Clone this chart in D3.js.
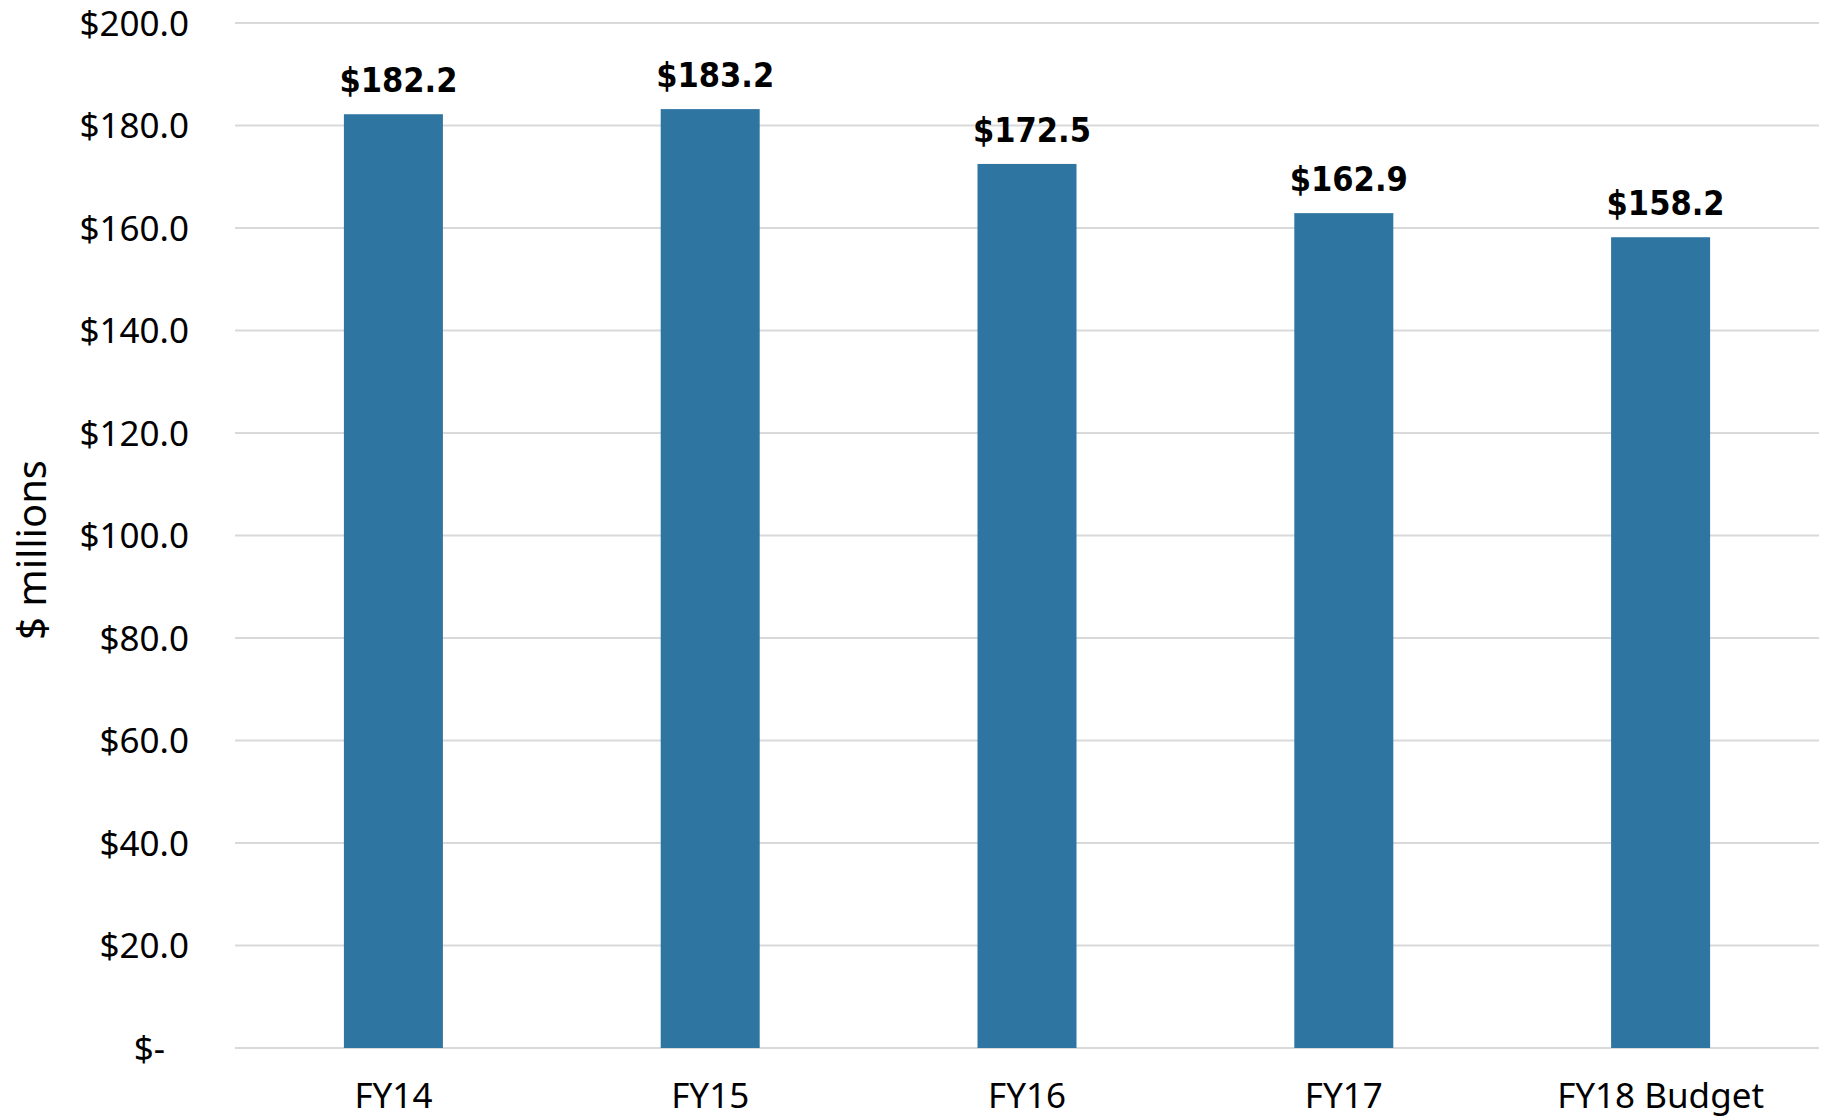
<!DOCTYPE html>
<html>
<head>
<meta charset="utf-8">
<script src="https://cdn.jsdelivr.net/npm/d3@7"></script>
<style>
  body { margin: 0; background: #fff; }
  #chart text { fill: #000; }
</style>
</head>
<body>
<div id="chart"></div>
<script>
const categories = ["FY14", "FY15", "FY16", "FY17", "FY18 Budget"];
const values = [182.2, 183.2, 172.5, 162.9, 158.2];
const yTicks = [0, 20, 40, 60, 80, 100, 120, 140, 160, 180, 200];

const width = 1824, height = 1120;
const margin = { top: 23, right: 5, bottom: 72, left: 235 };

const svg = d3.select("#chart")
  .append("svg")
  .attr("width", width)
  .attr("height", height);

const x = d3.scaleBand()
  .domain(categories)
  .range([margin.left, width - margin.right])
  .paddingInner(0.6875)
  .paddingOuter(0.34375);

const y = d3.scaleLinear()
  .domain([0, 200])
  .range([height - margin.bottom, margin.top]);

const fontRegular = "'Noto Sans', 'DejaVu Sans', sans-serif";
const fontBold = "'DejaVu Sans Condensed', 'DejaVu Sans', sans-serif";

// gridlines
svg.append("g")
  .selectAll("line")
  .data(yTicks)
  .join("line")
  .attr("x1", margin.left)
  .attr("x2", width - margin.right)
  .attr("y1", d => y(d))
  .attr("y2", d => y(d))
  .attr("stroke", "#d9d9d9")
  .attr("stroke-width", 2);

// y tick labels (accounting style: zero shown as "$-" with trailing space)
svg.append("g")
  .selectAll("text")
  .data(yTicks)
  .join("text")
  .attr("x", d => d === 0 ? 165 : 189)
  .attr("y", d => y(d))
  .attr("dy", "0.36em")
  .attr("text-anchor", "end")
  .style("font-family", fontRegular)
  .style("font-size", "35px")
  .text(d => d === 0 ? "$-" : "$" + d.toFixed(1));

// bars
svg.append("g")
  .selectAll("rect")
  .data(values)
  .join("rect")
  .attr("x", (d, i) => x(categories[i]))
  .attr("y", d => y(d))
  .attr("width", x.bandwidth())
  .attr("height", d => y(0) - y(d))
  .attr("fill", "#2e75a1");

// value labels
svg.append("g")
  .selectAll("text")
  .data(values)
  .join("text")
  .attr("x", (d, i) => x(categories[i]) + x.bandwidth() / 2 + 5)
  .attr("y", d => y(d) - 22)
  .attr("text-anchor", "middle")
  .style("font-family", fontBold)
  .style("font-weight", "bold")
  .style("font-size", "34px")
  .text(d => "$" + d.toFixed(1));

// x labels
svg.append("g")
  .selectAll("text")
  .data(categories)
  .join("text")
  .attr("x", d => x(d) + x.bandwidth() / 2)
  .attr("y", y(0) + 60)
  .attr("text-anchor", "middle")
  .style("font-family", fontRegular)
  .style("font-size", "35px")
  .text(d => d);

// y axis title
svg.append("text")
  .attr("transform", "translate(32,550) rotate(-90)")
  .attr("dy", "0.35em")
  .attr("text-anchor", "middle")
  .style("font-family", fontRegular)
  .style("font-size", "40px")
  .text("$ millions");
</script>
</body>
</html>
